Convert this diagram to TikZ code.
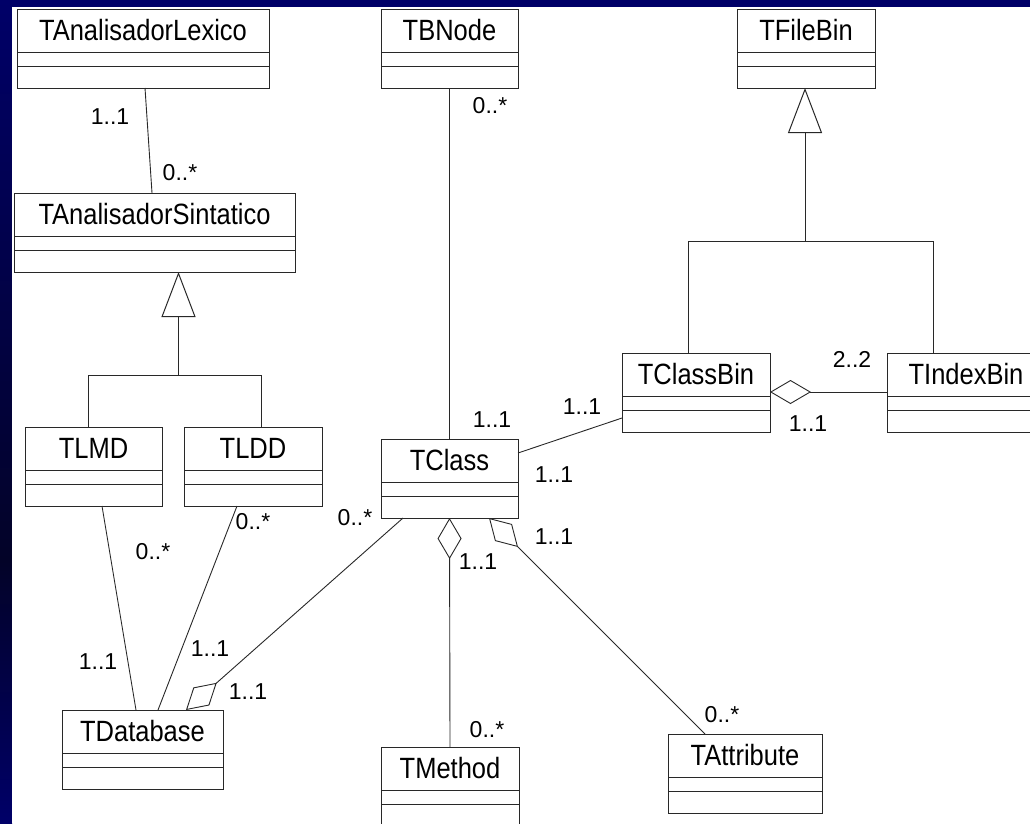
\documentclass[tikz,border=0pt]{standalone}
\usepackage{fontspec}
\setmainfont{Liberation Sans}
\usetikzlibrary{arrows.meta,calc}
\definecolor{slidebg}{RGB}{0,0,104}
\definecolor{slidedark}{RGB}{3,3,40}
\definecolor{umlline}{RGB}{40,40,40}
\tikzset{
  classbox/.style={draw=umlline, line width=1pt, fill=white, rectangle, inner sep=0pt, outer sep=0pt, minimum height=79pt},
  classline/.style={draw=umlline, line width=1pt},
  classname/.style={font=\fontsize{25.5}{30}\selectfont, inner sep=0pt},
  mult/.style={font=\fontsize{23}{27}\selectfont, inner sep=0pt},
  assoc/.style={draw=umlline, line width=0.9pt},
  gen/.style={draw=umlline, line width=1pt, -{Triangle[open, length=45pt, width=34pt]}},
  aggstart/.style={draw=umlline, line width=0.9pt, {Diamond[open, length=41pt, width=24pt]}-},
  aggend/.style={draw=umlline, line width=0.9pt, -{Diamond[open, length=41pt, width=24pt]}}
}
\newcommand\UMLclass[5]{% name, left, top, width, text
  \node[classbox, minimum width=#4pt, anchor=north west] (#1) at (#2,#3) {};
  \draw[classline] ([yshift=-43pt]#1.north west) -- ([yshift=-43pt]#1.north east);
  \draw[classline] ([yshift=-57pt]#1.north west) -- ([yshift=-57pt]#1.north east);
  \node[classname, anchor=base] (#1-name) at ([yshift=-31.5pt]#1.north) {\scalebox{1}[1.15]{#5}};
}
\begin{document}
\begin{tikzpicture}[x=1pt, y=-1pt]
\useasboundingbox (0,0) rectangle (1030,823);
\clip (0,0) rectangle (1030,823);
\fill[slidebg] (0,0) rectangle (1030,823);
\shade[top color=slidebg, bottom color=slidedark] (0,0) rectangle (12,560);
\shade[top color=slidedark, bottom color=slidebg] (0,560) rectangle (12,823);
\fill[white] (12,7) rectangle (1030,823);

% classes
\UMLclass{lex}{17}{9}{252}{TAnalisadorLexico}
\UMLclass{sint}{14}{193}{281}{TAnalisadorSintatico}
\UMLclass{tbnode}{381}{9}{137}{TBNode}
\UMLclass{tfilebin}{737}{9}{138}{TFileBin}
\UMLclass{tclassbin}{622}{353}{148}{TClassBin}
\UMLclass{tindexbin}{887}{353}{158}{TIndexBin}
\UMLclass{tlmd}{25}{427}{137}{TLMD}
\UMLclass{tldd}{184}{427}{138}{TLDD}
\UMLclass{tclass}{381}{439}{137}{TClass}
\UMLclass{tdb}{62}{710}{161}{TDatabase}
\UMLclass{tmethod}{381}{747}{138}{TMethod}
\UMLclass{tattr}{668}{734}{154}{TAttribute}

% associations
\draw[assoc] ([xshift=2pt]lex.south) -- ([xshift=-2.5pt]sint.north);
\draw[assoc] (tbnode.south) -- (tclass.north);
\draw[assoc] ([yshift=-14pt]tclass.north east) -- ([yshift=-65pt]tclassbin.north west);
\draw[assoc] ([xshift=8.5pt]tlmd.south) -- ([xshift=-6.5pt]tdb.north);
\draw[assoc] ([xshift=-16pt]tldd.south) -- ([xshift=15.5pt]tdb.north);

% aggregations
\draw[aggstart] ([yshift=-39pt]tclassbin.north east) -- ([yshift=-39pt]tindexbin.north west);
\draw[aggstart] (tclass.south) -- (tmethod.north);
\draw[aggstart] ([xshift=39.5pt]tclass.south) -- ([xshift=-40pt]tattr.north);
\draw[aggend] ([xshift=-46.5pt]tclass.south) -- ([xshift=43.5pt]tdb.north);

% generalizations
\draw[classline] ([xshift=-5.5pt]tlmd.north) -- ++(0,-52) -| ([xshift=8pt]tldd.north);
\draw[gen] ([xshift=24pt,yshift=-103pt]sint.south) -- ([xshift=24pt]sint.south);
\draw[classline] ([xshift=-8pt]tclassbin.north) -- ++(0,-112) -| ([xshift=-33pt]tindexbin.north);
\draw[gen] ([xshift=-1pt,yshift=-153pt]tfilebin.south) -- ([xshift=-1pt]tfilebin.south);

% multiplicities
\node[mult] (m1) at (110,117) {1..1};
\node[mult] (m2) at (180,173) {0..*};
\node[mult] (m3) at (490,106) {0..*};
\node[mult] (m4) at (492,420) {1..1};
\node[mult] (m5) at (582,407) {1..1};
\node[mult] (m6) at (554,475) {1..1};
\node[mult] (m7) at (852,359) {2..2};
\node[mult] (m8) at (808,424) {1..1};
\node[mult] (m9) at (355,518) {0..*};
\node[mult] (m10) at (554,537) {1..1};
\node[mult] (m11) at (478,562) {1..1};
\node[mult] (m12) at (253,522) {0..*};
\node[mult] (m13) at (153,552) {0..*};
\node[mult] (m14) at (98,662) {1..1};
\node[mult] (m15) at (210,649) {1..1};
\node[mult] (m16) at (248,692) {1..1};
\node[mult] (m17) at (487,730) {0..*};
\node[mult] (m18) at (722,715) {0..*};
\end{tikzpicture}
\end{document}
